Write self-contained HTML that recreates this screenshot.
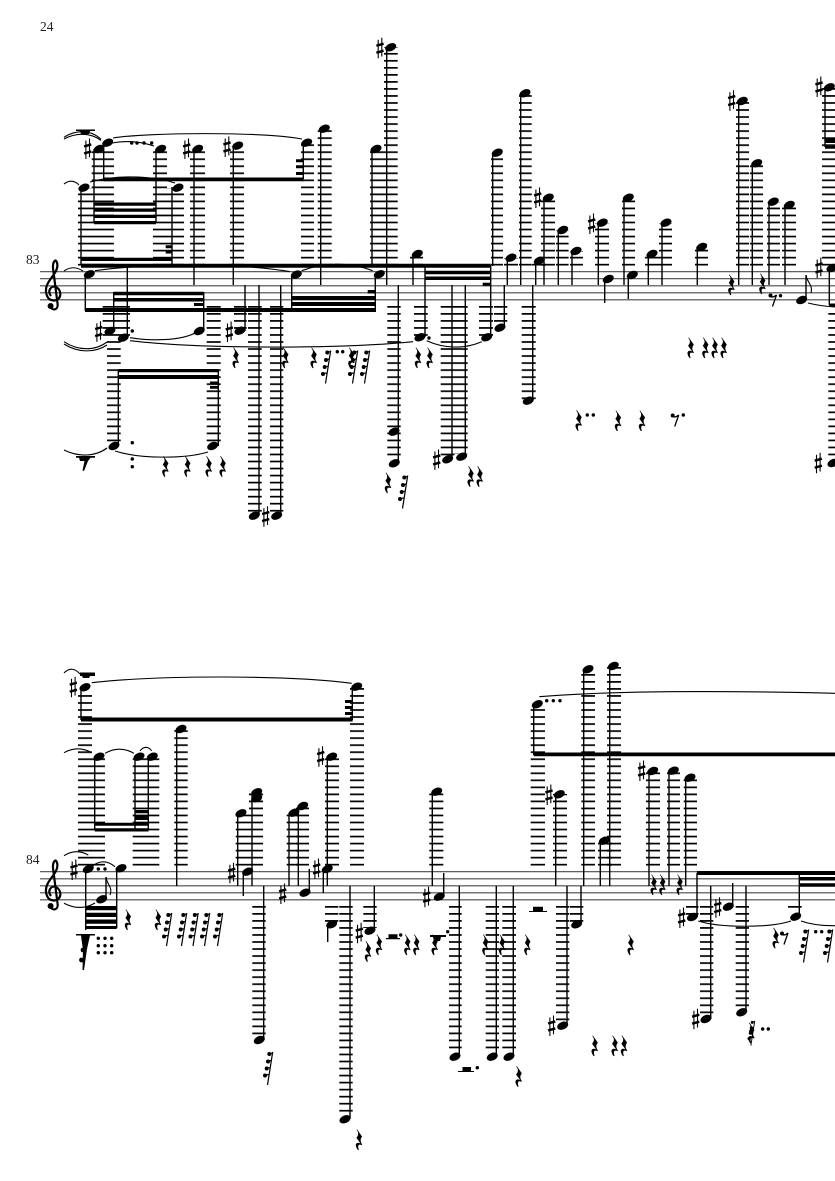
<!DOCTYPE html>
<html><head><meta charset="utf-8"><style>
html,body{margin:0;padding:0;background:#fff}
svg{display:block}
text{font-family:"Liberation Serif",serif;fill:#222;font-size:13.5px}
</style></head><body>
<svg width="835" height="1181" viewBox="0 0 835 1181" xmlns="http://www.w3.org/2000/svg">
<defs>
<pattern id="a" patternUnits="userSpaceOnUse" x="0" y="270.85" width="1000" height="7.03"><rect width="1000" height="1.7" fill="#000"/></pattern>
<pattern id="b" patternUnits="userSpaceOnUse" x="0" y="870.85" width="1000" height="7.03"><rect width="1000" height="1.7" fill="#000"/></pattern>
<g id="n"><ellipse rx="5.8" ry="3.8" transform="rotate(-24)"/></g>
<g id="s"><path d="M-1.8-8.5V10M1.8-10.5V8.2" stroke="#000" stroke-width="1.1" fill="none"/><path d="M-3.6-2.6L3.6-4.6M-3.6 4.4L3.6 2.4" stroke="#000" stroke-width="2.5" fill="none"/></g>
<path id="r" transform="scale(1.12)" d="M-2-9.5L2.5-3C1-1 .5 1 2.6 4L2.1 4.6C0 3.5-2 4-.4 8.7L-1 9.2C-3.6 6-4.2 2.4-.6 2.4L1 3-2.6-2C-1-4 0-6-2.4-9Z"/>
<g id="m"><path d="M2.7-16.5L-2.5 16.5M-.5-15L3-15.5M-1.5-7.5L1.5-8M-3-.3L.3-.8M-5 6.5L-.8 6" stroke="#000" stroke-width="1.2" fill="none"/><circle cx="-.7" cy="-14.5" r="2"/><circle cx="-2" cy="-7" r="2"/><circle cx="-3.3" cy="0" r="2"/><circle cx="-5" cy="7" r="2"/></g>
<g id="e"><circle cx="-3" cy="-3.5" r="2"/><path d="M-3-2.4C-1-1.6 1-2.2 3-4L-1 7.5" stroke="#000" stroke-width="1.3" fill="none"/></g>
<g id="d"><circle r="1.7"/></g>
<g id="c"><path d="M50 306C52 311.5 58.5 310 57.6 304L53 268C52.6 262 56 257 57.3 264C58.2 271 52 276 48 283C44 290 46 300.5 54 300.5C61 300.5 63 291 56 287C51 285 47 291 51 296" fill="none" stroke="#000" stroke-width="2.2"/><circle cx="50.6" cy="306" r="3"/></g>
</defs>
<rect width="835" height="1181" fill="#fff"/>
<text x="40" y="31">24</text>
<text x="26" y="264">83</text>
<text x="26" y="864">84</text>
<!-- staves -->
<path d="M40 271.7H835M40 278.7H835M40 285.8H835M40 292.8H835M40 299.85H835M40 871.7H835M40 878.8H835M40 885.8H835M40 892.8H835M40 899.85H835" stroke="#4a4a4a" stroke-width="1.1" fill="none"/>
<use href="#c"/>
<use href="#c" y="600"/>
<!-- ledger staff 1 -->
<g fill="url(#a)">
<rect x="78" y="188" width="36" height="78"/><rect x="91.7" y="149" width="22.3" height="39"/>
<rect x="153" y="149" width="14" height="117"/><rect x="167" y="188" width="17" height="78"/>
<rect x="190" y="149" width="15" height="117"/><rect x="230" y="146" width="14" height="120"/>
<rect x="301" y="143" width="13" height="123"/><rect x="317.7" y="129" width="14" height="137"/>
<rect x="370" y="149" width="14" height="117"/><rect x="384" y="47" width="13.7" height="219"/>
<rect x="410" y="254" width="13" height="12"/><rect x="491" y="153" width="12" height="113"/>
<rect x="504" y="258" width="14" height="8"/><rect x="519" y="93" width="12.7" height="173"/>
<rect x="532" y="261" width="14" height="5"/><rect x="541" y="198" width="14" height="68"/>
<rect x="556" y="230" width="12.6" height="36"/><rect x="570" y="251" width="13" height="15"/>
<rect x="595" y="223" width="14" height="43"/><rect x="622" y="198" width="13" height="68"/>
<rect x="645" y="254" width="14" height="12"/><rect x="659" y="223" width="13" height="43"/>
<rect x="695" y="247" width="13" height="19"/><rect x="736" y="101" width="13" height="165"/>
<rect x="750" y="163" width="13" height="103"/><rect x="767" y="202" width="13" height="64"/>
<rect x="782" y="205" width="14" height="61"/><rect x="822" y="87" width="13" height="179"/>
<rect x="102.7" y="304" width="27.3" height="33"/><rect x="107" y="337" width="13.7" height="107"/>
<rect x="206.7" y="304" width="14" height="140"/><rect x="234" y="304" width="12.7" height="26"/>
<rect x="248" y="304" width="13.7" height="208"/><rect x="270" y="304" width="13.3" height="208"/>
<rect x="387.3" y="304" width="13.4" height="156"/><rect x="414" y="304" width="13.7" height="32"/>
<rect x="440.7" y="304" width="13.8" height="152"/><rect x="454.5" y="304" width="13.2" height="150"/>
<rect x="479" y="304" width="14" height="32"/><rect x="494" y="304" width="13.3" height="22"/>
<rect x="521.7" y="304" width="14" height="96"/><rect x="828.3" y="311" width="6.7" height="145"/>
</g>
<!-- ledger staff 2 -->
<g fill="url(#b)">
<rect x="78" y="690" width="14" height="176"/><rect x="91.7" y="757" width="13.3" height="109"/>
<rect x="132.7" y="757" width="13.3" height="109"/><rect x="146" y="757" width="13.3" height="109"/>
<rect x="174.3" y="730" width="13.4" height="136"/><rect x="235.7" y="813" width="13.3" height="53"/>
<rect x="249" y="793" width="14" height="73"/><rect x="286.7" y="813" width="11.3" height="53"/>
<rect x="296" y="806" width="13" height="60"/><rect x="325" y="757" width="14" height="109"/>
<rect x="350" y="687" width="14" height="179"/><rect x="429.3" y="792" width="14" height="74"/>
<rect x="530.7" y="704" width="14.3" height="162"/><rect x="553" y="794" width="14" height="72"/>
<rect x="581.3" y="669" width="13.7" height="197"/><rect x="598" y="841" width="14" height="25"/>
<rect x="607" y="666" width="14" height="200"/><rect x="646" y="771" width="14" height="95"/>
<rect x="667" y="771" width="13" height="95"/><rect x="683.7" y="778" width="13.3" height="88"/>
<rect x="252.3" y="904" width="13.4" height="132"/><rect x="339.3" y="904" width="13.4" height="212"/>
<rect x="325" y="904" width="13.3" height="19"/><rect x="363.3" y="904" width="13.4" height="24"/>
<rect x="449" y="904" width="12.7" height="148"/><rect x="485.7" y="904" width="13.3" height="148"/>
<rect x="502.3" y="904" width="13.7" height="148"/><rect x="556" y="904" width="13.3" height="118"/>
<rect x="570" y="904" width="13.3" height="18"/><rect x="700" y="904" width="13.3" height="111"/>
<rect x="735.7" y="904" width="13.3" height="104"/><rect x="788" y="904" width="13.7" height="8"/>
<rect x="686" y="904" width="12.5" height="12"/>
</g>
<!-- stems -->
<path fill="none" stroke="#000" stroke-width="1.4" d="M94 149V223M103.7 143V179M81 187V265M156 149V223M172 187V265M194 149V285M233.3 146V285M303.3 143V179M320.7 129V285M372 149V266M386.7 47V285M413 254V285M492.7 153V266M507.3 258V285M520.7 93V285M535.7 261V285M544 198V285M558.3 230V285M572 251V285M598.3 223V285M604.7 279V303M624 198V285M628.3 275V299M648.3 254V285M662 223V285M697.3 247V285M738.7 101V285M752.3 163V285M769 202V285M785 205V285M806 275V300M825 87V147M829.3 268V305M85.3 274V311M127.3 266V338M113.7 292V331M203.7 292V331M118.3 370V446M218.3 370V446M245 285V331M259 285V515M280.7 285V515M291.7 275V311M375.3 274V311M398.3 285V463M425 265V337M452 285V459M465.3 285V457M490.7 265V337M504.3 285V327M532.7 285V400
M81 687V720M352.3 687V720M94.7 757V830M135 757V830M148.3 757V830M176.7 729V886M237.7 813V886M252 795V886M243.3 872V896M263.7 886V1040M289 813V886M298.3 806V886M309.3 869V892M327.3 757V886M323.3 869V893M350 886V1119M327.7 924V942M374.3 886V930M432.3 792V886M443.7 873V896M459.3 886V1056M496.3 886V1056M513.3 886V1056M533.7 704V755M555.7 794V886M583.7 669V886M609.7 666V886M600.3 841V886M649 771V886M669 771V886M685.7 778V886M697 873V917M799.3 872V917M710.7 886V1019M732.7 883V906M746 886V1012M581 886V924M567 886V1025M85.7 869V930M106 877V899M116.7 868V928"/>
<!-- beams -->
<path fill="#000" d="M94 202.5H156V205.8H94ZM94 208.5H156V211.8H94ZM94 214.7H156V218H94ZM94 221H156V224.3H94ZM81 257.7H172V261H81ZM81 263.7H490.7V267.7H81ZM103.7 177.5H303.6V181.2H103.7ZM165.7 245.2H172V248.2H165.7ZM165.7 250.5H172V253.5H165.7ZM296 159.2H303V162.2H296ZM296 165.2H303V168.2H296ZM296 172H303V175H296ZM424.5 270.7H490.7V274.2H424.5ZM424.5 276.5H490.7V280H424.5ZM482.7 282.7H490.7V285.7H482.7ZM85 308H376V312H85ZM113.7 291.7H203.7V295.2H113.7ZM113.7 298H203.7V301.5H113.7ZM194 303H203.7V306H194ZM292 296H376V300H292ZM292 302H376V306H292ZM367.7 290H375.3V293.5H367.7ZM118.3 369H218.3V372.3H118.3ZM118.3 375H218.3V379H118.3ZM210 381.5H218.3V384.3H210ZM210 386H218.3V388.8H210ZM825 138.5H835V143H825ZM825 145.7H835V148.7H825ZM829 303.5H835V307H829Z
M81 717.5H352.6V721.5H81ZM345 700H352V703H345ZM345 706H352V709H345ZM345 712H352V715H345ZM94.7 828.3H148.6V831.5H94.7ZM94.7 822.7H148.6V825.7H94.7ZM135 810H148.6V813.3H135ZM135 816H148.6V820H135ZM85.7 906H116.7V910.2H85.7ZM85.7 912.7H116.7V917H85.7ZM85.7 919.5H116.7V923.8H85.7ZM85.7 926H116.7V929H85.7ZM533.7 752.5H835V756.2H533.7ZM697 871H835V875H697ZM799.3 877H835V880.5H799.3ZM799.3 883.3H835V886.8H799.3Z
M76 129.5H95V131H90L89 134H81L80 131H76ZM76 456H95V457.7H90.5L88 461 84 471 82.5 470.5 84.5 461H80L79 457.7H76ZM80 672.5H95V676H90L89 678H83L82 676H80ZM386 938H400V939.2H386ZM388.5 934.3H397.5V938H388.5ZM430 935H446V937H441L440 941H434L433 937H430ZM458 1071H474V1072H458ZM462.5 1067H471V1071H462.5ZM529 911H547V912H529ZM533 906.7H543V911H533ZM76 934H95V935.5H90L87 949 84 970 82.5 970 83 950 81 935.5H76Z"/>
<!-- notes staff 1 -->
<g>
<use href="#n" x="99" y="149"/><use href="#n" x="107.7" y="142.7"/><use href="#n" x="84" y="187.7"/><use href="#n" x="160.7" y="149"/><use href="#n" x="178" y="187.7"/><use href="#n" x="197.7" y="149"/><use href="#n" x="237.7" y="145.7"/><use href="#n" x="306.7" y="142.7"/><use href="#n" x="324.3" y="128.7"/><use href="#n" x="376" y="149"/><use href="#n" x="390.7" y="47.3"/><use href="#n" x="417.3" y="254"/><use href="#n" x="497.3" y="152.7"/><use href="#n" x="511" y="257.7"/><use href="#n" x="525" y="93.3"/><use href="#n" x="539.3" y="260.7"/><use href="#n" x="548.3" y="197.7"/><use href="#n" x="562.7" y="230"/><use href="#n" x="576" y="251"/><use href="#n" x="602.3" y="222.7"/><use href="#n" x="608.3" y="279"/><use href="#n" x="628.3" y="197.7"/><use href="#n" x="632.3" y="275"/><use href="#n" x="652" y="254"/><use href="#n" x="666" y="222.7"/><use href="#n" x="701.7" y="247"/><use href="#n" x="742.3" y="101"/><use href="#n" x="756.7" y="163.3"/><use href="#n" x="773.3" y="201.7"/><use href="#n" x="789.3" y="205"/><use href="#n" x="801.7" y="300"/><use href="#n" x="829.3" y="87.3"/><use href="#n" x="832" y="268"/><use href="#n" x="833" y="463"/>
<use href="#n" x="89.3" y="274.3"/><use href="#n" x="296.3" y="274.6"/><use href="#n" x="379.3" y="274.3"/><use href="#n" x="123.3" y="337.7"/><use href="#n" x="110" y="331"/><use href="#n" x="199.3" y="331"/><use href="#n" x="114" y="446"/><use href="#n" x="212.7" y="446"/><use href="#n" x="240" y="330.7"/><use href="#n" x="254.3" y="515.7"/><use href="#n" x="276.7" y="515.7"/><use href="#n" x="394" y="431.7"/><use href="#n" x="394.3" y="463.3"/><use href="#n" x="420" y="337.3"/><use href="#n" x="447.7" y="459.3"/><use href="#n" x="461.7" y="456.7"/><use href="#n" x="486.7" y="337.3"/><use href="#n" x="500" y="327.7"/><use href="#n" x="528.3" y="400.7"/>
<!-- notes staff 2 -->
<use href="#n" x="85" y="687.3"/><use href="#n" x="356.7" y="686.7"/><use href="#n" x="99" y="756.7"/><use href="#n" x="139" y="756.7"/><use href="#n" x="152.3" y="756.7"/><use href="#n" x="181" y="729"/><use href="#n" x="241" y="813.3"/><use href="#n" x="256.7" y="792.3"/><use href="#n" x="256.7" y="798.3"/><use href="#n" x="247.7" y="871.7"/><use href="#n" x="294" y="812.7"/><use href="#n" x="302.7" y="806"/><use href="#n" x="305" y="892.7"/><use href="#n" x="331.7" y="756.7"/><use href="#n" x="327.3" y="869"/><use href="#n" x="436.7" y="791.7"/><use href="#n" x="439.3" y="896.7"/><use href="#n" x="537.3" y="704.3"/><use href="#n" x="559.3" y="794.3"/><use href="#n" x="588" y="669.3"/><use href="#n" x="613.3" y="666"/><use href="#n" x="604.3" y="840.7"/><use href="#n" x="652.7" y="771"/><use href="#n" x="673.3" y="770.7"/><use href="#n" x="690" y="777.7"/><use href="#n" x="692.5" y="917"/><use href="#n" x="795.7" y="916.7"/><use href="#n" x="88.3" y="869"/><use href="#n" x="101.7" y="899.3"/><use href="#n" x="121" y="868.3"/><use href="#n" x="259.3" y="1040"/><use href="#n" x="345" y="1119.3"/><use href="#n" x="331.7" y="924.3"/><use href="#n" x="370" y="930.7"/><use href="#n" x="455" y="1056.7"/><use href="#n" x="492.3" y="1056.7"/><use href="#n" x="509" y="1056.7"/><use href="#n" x="576.7" y="924.3"/><use href="#n" x="562.7" y="1025.7"/><use href="#n" x="706" y="1019"/><use href="#n" x="728.3" y="906.7"/><use href="#n" x="741.7" y="1012.3"/>
</g>
<!-- sharps -->
<g>
<use href="#s" x="87.7" y="149"/><use href="#s" x="186.7" y="149"/><use href="#s" x="227" y="147"/><use href="#s" x="380" y="48.3"/><use href="#s" x="537.7" y="198"/><use href="#s" x="591.7" y="224"/><use href="#s" x="731.7" y="100.7"/><use href="#s" x="819" y="87"/><use href="#s" x="819" y="268"/><use href="#s" x="818.3" y="463.3"/><use href="#s" x="98.7" y="331.7"/><use href="#s" x="229.3" y="332"/><use href="#s" x="265.7" y="516.7"/><use href="#s" x="436.7" y="460"/>
<use href="#s" x="73.3" y="687.3"/><use href="#s" x="74" y="870"/><use href="#s" x="231.7" y="873.3"/><use href="#s" x="282.7" y="894"/><use href="#s" x="316.7" y="869"/><use href="#s" x="320.7" y="756.7"/><use href="#s" x="426.7" y="897.3"/><use href="#s" x="359.3" y="933.3"/><use href="#s" x="549" y="795"/><use href="#s" x="551.7" y="1026"/><use href="#s" x="641.7" y="771"/><use href="#s" x="681.7" y="918"/><use href="#s" x="695.7" y="1019.3"/><use href="#s" x="717.7" y="907.7"/>
</g>
<!-- rests -->
<g>
<use href="#r" x="165.7" y="466.7"/><use href="#r" x="187.7" y="466.7"/><use href="#r" x="209" y="466.7"/><use href="#r" x="223" y="466.7"/><use href="#r" x="236" y="358"/><use href="#r" x="285.7" y="358"/><use href="#r" x="314" y="358"/><use href="#r" x="351.7" y="358"/><use href="#r" x="388.3" y="483"/><use href="#r" x="418.3" y="358"/><use href="#r" x="430" y="358"/><use href="#r" x="471" y="476.7"/><use href="#r" x="480" y="476.7"/><use href="#r" x="731.7" y="285"/><use href="#r" x="762.7" y="284"/><use href="#r" x="691" y="348"/><use href="#r" x="705.7" y="348"/><use href="#r" x="715" y="348"/><use href="#r" x="724" y="348"/><use href="#r" x="579" y="420.7"/><use href="#r" x="618.3" y="421"/><use href="#r" x="642.3" y="421"/>
<use href="#m" x="328" y="367"/><use href="#m" x="355" y="367"/><use href="#m" x="367" y="367"/><use href="#m" x="405" y="492"/>
<use href="#e" x="773.5" y="299"/><use href="#e" x="675.7" y="419"/><use href="#e" x="785" y="937"/>
<use href="#r" x="128.3" y="920"/><use href="#r" x="158.3" y="920"/><use href="#m" x="169" y="929.5"/><use href="#m" x="184" y="929.5"/><use href="#m" x="195.5" y="929.5"/><use href="#m" x="207" y="929.5"/><use href="#m" x="220" y="929.5"/><use href="#m" x="270" y="1068.5"/><use href="#r" x="359.3" y="1140"/><use href="#r" x="368.3" y="951.7"/><use href="#r" x="379.3" y="945"/><use href="#r" x="407.7" y="945"/><use href="#r" x="416.7" y="945"/><use href="#r" x="435" y="945"/><use href="#r" x="485.7" y="945"/><use href="#r" x="502.3" y="945"/><use href="#r" x="527.7" y="945"/><use href="#r" x="519" y="1076.7"/><use href="#r" x="631" y="945"/><use href="#r" x="595" y="1046"/><use href="#r" x="615" y="1046"/><use href="#r" x="624.3" y="1046"/><use href="#r" x="654" y="885"/><use href="#r" x="662.7" y="885"/><use href="#r" x="680" y="885"/><use href="#r" x="776" y="938.3"/><use href="#r" x="751.7" y="1033.3"/><use href="#m" x="753" y="1035" transform="translate(188 257) scale(.75)"/><use href="#m" x="806" y="946"/><use href="#m" x="830" y="946"/>
<circle cx="84" cy="940" r="2.4"/><circle cx="83" cy="950" r="2.4"/><circle cx="81.5" cy="960" r="2.4"/>
</g>
<!-- dots -->
<g>
<use href="#d" x="131.7" y="143"/><use href="#d" x="137" y="143"/><use href="#d" x="144" y="143"/><use href="#d" x="151.7" y="143"/><use href="#d" x="132.3" y="331"/><use href="#d" x="132.3" y="442.7"/><use href="#d" x="132.3" y="459"/><use href="#d" x="132.3" y="466.7"/><use href="#d" x="337.3" y="351.7"/><use href="#d" x="342.7" y="351.7"/><use href="#d" x="429" y="338"/><use href="#d" x="780.5" y="295.7"/><use href="#d" x="587.3" y="415"/><use href="#d" x="593.3" y="415"/><use href="#d" x="683.3" y="415"/>
<use href="#d" x="98.3" y="869"/><use href="#d" x="105" y="869"/><use href="#d" x="98.3" y="938.3"/><use href="#d" x="105" y="938.3"/><use href="#d" x="111.7" y="938.3"/><use href="#d" x="98.3" y="945.7"/><use href="#d" x="105" y="945.7"/><use href="#d" x="111.7" y="945.7"/><use href="#d" x="98.3" y="952.7"/><use href="#d" x="105" y="952.7"/><use href="#d" x="111.7" y="952.7"/><use href="#d" x="400.7" y="935"/><use href="#d" x="447.7" y="931.7"/><use href="#d" x="477.3" y="1067.7"/><use href="#d" x="546.7" y="700.7"/><use href="#d" x="553.3" y="700.7"/><use href="#d" x="560" y="700.7"/><use href="#d" x="762.7" y="1029"/><use href="#d" x="768.3" y="1029"/><use href="#d" x="815.7" y="931.7"/><use href="#d" x="821.7" y="931.7"/>
</g>
<!-- slurs & flags -->
<path fill="none" stroke="#000" stroke-width="1.1" d="M64 137.3C75 130 90 129 101 139.3M64 139C75 133 90 132 101 140.5M113 138C150 132 265 132 302 139M112 143Q133 139 154 146M90 182C115 175 150 175 175 183M64 184Q72 178 79 185
M64 271Q73 264.5 83 271M95 270.7C150 263 240 263 290 271.7M301.7 270.7C325 262 350 262 372.7 270.7M64 341.7C78 351 95 351 107 342M64 344C78 353 95 353 107 345M130 337.7C150 341 180 341 195 333M130 340.7C200 349 340 349 413 341.7M426.7 340.7C445 349 465 349 481.7 341.7M64 450C78 457 95 457 107 448M115 451C140 459 185 459 208 452M808 303Q820 306 835 307
M806 275C807 283 813 284 811 293M106 877C107 885 113 887 110 895
M64 673Q72 665 80 674M91.7 682.7C160 675 290 675 351.7 683.3M64 752.7Q78 745 91.7 752.7M105 753.3Q119.5 745 134 753.3M140 750.7Q146 744 151.7 750.7M64 855.7Q76 848 88.3 855M91.7 866.7Q103 857 115 866.7M64 903.3C75 909 85 909 95 903M539.3 696.7C620 690 740 691 835 693.3M698.3 921C720 928 770 928 791 921M801 921Q815 926 835 925.7"/>
</svg>
</body></html>
